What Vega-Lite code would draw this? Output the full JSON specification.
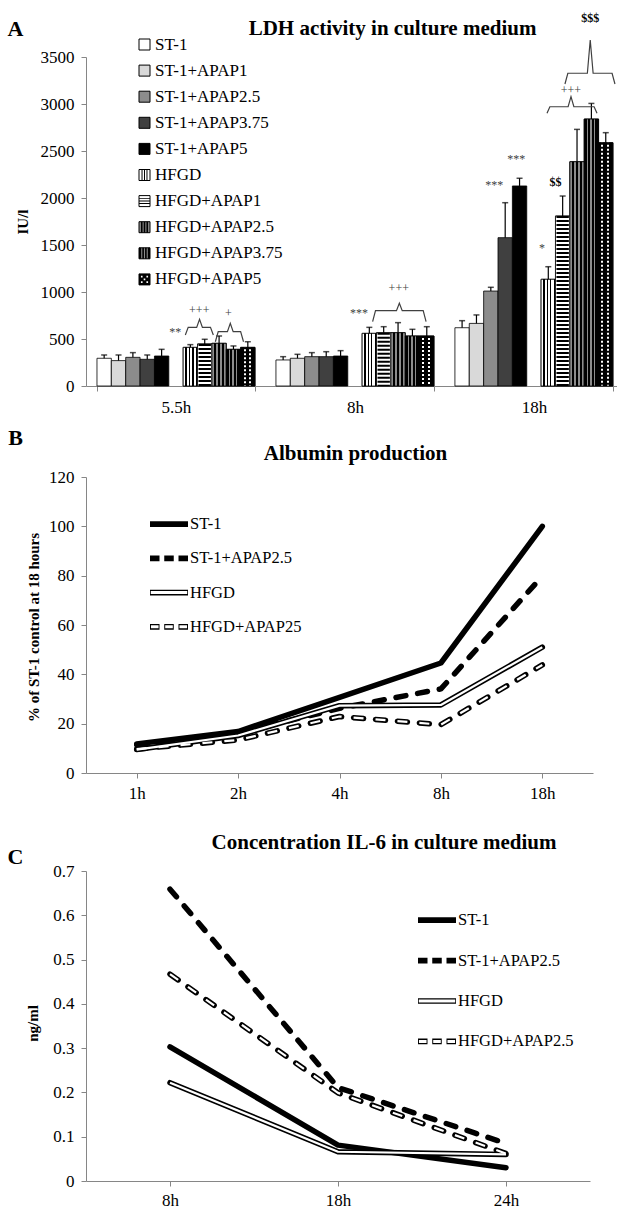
{
  "$schema": "https://vega.github.io/schema/vega-lite/v6.json",
  "background": "#ffffff",
  "padding": {"left": 7, "top": 11, "right": 0, "bottom": 0},
  "config": {
    "font": "Liberation Serif",
    "view": {"stroke": null},
    "axis": {"domainColor": "#868686", "domainWidth": 1, "tickColor": "#868686", "tickSize": 5, "labelColor": "#000000", "labelFont": "Liberation Serif", "labelFontSize": 17, "labelPadding": 7, "titleFont": "Liberation Serif", "titleFontSize": 15, "titleFontWeight": "bold", "titleColor": "#000000", "grid": false},
    "title": {"font": "Liberation Serif", "fontSize": 21, "fontWeight": "bold", "color": "#000000"},
    "legend": {"labelFont": "Liberation Serif", "labelColor": "#000000"}
  },
  "datasets": {
    "ldh": [
      {"time": "5.5h", "group": "ST-1", "value": 295, "err": 35},
      {"time": "5.5h", "group": "ST-1+APAP1", "value": 270, "err": 60},
      {"time": "5.5h", "group": "ST-1+APAP2.5", "value": 305, "err": 50},
      {"time": "5.5h", "group": "ST-1+APAP3.75", "value": 284, "err": 46},
      {"time": "5.5h", "group": "ST-1+APAP5", "value": 319, "err": 71},
      {"time": "5.5h", "group": "HFGD", "value": 411, "err": 29},
      {"time": "5.5h", "group": "HFGD+APAP1", "value": 447, "err": 50},
      {"time": "5.5h", "group": "HFGD+APAP2.5", "value": 454, "err": 78},
      {"time": "5.5h", "group": "HFGD+APAP3.75", "value": 390, "err": 36},
      {"time": "5.5h", "group": "HFGD+APAP5", "value": 411, "err": 60},
      {"time": "8h", "group": "ST-1", "value": 277, "err": 35},
      {"time": "8h", "group": "ST-1+APAP1", "value": 295, "err": 42},
      {"time": "8h", "group": "ST-1+APAP2.5", "value": 312, "err": 43},
      {"time": "8h", "group": "ST-1+APAP3.75", "value": 312, "err": 53},
      {"time": "8h", "group": "ST-1+APAP5", "value": 319, "err": 57},
      {"time": "8h", "group": "HFGD", "value": 560, "err": 64},
      {"time": "8h", "group": "HFGD+APAP1", "value": 567, "err": 64},
      {"time": "8h", "group": "HFGD+APAP2.5", "value": 567, "err": 107},
      {"time": "8h", "group": "HFGD+APAP3.75", "value": 532, "err": 71},
      {"time": "8h", "group": "HFGD+APAP5", "value": 532, "err": 99},
      {"time": "18h", "group": "ST-1", "value": 620, "err": 75},
      {"time": "18h", "group": "ST-1+APAP1", "value": 666, "err": 90},
      {"time": "18h", "group": "ST-1+APAP2.5", "value": 1010, "err": 40},
      {"time": "18h", "group": "ST-1+APAP3.75", "value": 1578, "err": 372},
      {"time": "18h", "group": "ST-1+APAP5", "value": 2128, "err": 82},
      {"time": "18h", "group": "HFGD", "value": 1135, "err": 134},
      {"time": "18h", "group": "HFGD+APAP1", "value": 1808, "err": 213},
      {"time": "18h", "group": "HFGD+APAP2.5", "value": 2386, "err": 344},
      {"time": "18h", "group": "HFGD+APAP3.75", "value": 2840, "err": 166},
      {"time": "18h", "group": "HFGD+APAP5", "value": 2588, "err": 107}
    ],
    "ldhNotes": [
      {"time": "5.5h", "pos": 5.45, "value": 578, "text": "**"},
      {"time": "5.5h", "pos": 7.12, "value": 808, "text": "+++"},
      {"time": "5.5h", "pos": 9.15, "value": 780, "text": "+"},
      {"time": "8h", "pos": 5.78, "value": 780, "text": "***"},
      {"time": "8h", "pos": 8.55, "value": 1039, "text": "+++"},
      {"time": "18h", "pos": 2.74, "value": 2138, "text": "***"},
      {"time": "18h", "pos": 4.27, "value": 2415, "text": "***"},
      {"time": "18h", "pos": 6.06, "value": 1465, "text": "*"},
      {"time": "18h", "pos": 7.0, "value": 2173, "text": "$$"},
      {"time": "18h", "pos": 8.08, "value": 3149, "text": "+++"},
      {"time": "18h", "pos": 9.42, "value": 3915, "text": "$$$"}
    ],
    "ldhBraces": [
      {"time": "5.5h", "brace": "b1", "k": 1, "pos": 6.15, "value": 543},
      {"time": "5.5h", "brace": "b1", "k": 2, "pos": 6.35, "value": 624},
      {"time": "5.5h", "brace": "b1", "k": 3, "pos": 6.94, "value": 624},
      {"time": "5.5h", "brace": "b1", "k": 4, "pos": 7.14, "value": 710},
      {"time": "5.5h", "brace": "b1", "k": 5, "pos": 7.34, "value": 624},
      {"time": "5.5h", "brace": "b1", "k": 6, "pos": 7.9, "value": 624},
      {"time": "5.5h", "brace": "b1", "k": 7, "pos": 8.1, "value": 543},
      {"time": "5.5h", "brace": "b2", "k": 1, "pos": 8.24, "value": 471},
      {"time": "5.5h", "brace": "b2", "k": 2, "pos": 8.44, "value": 578},
      {"time": "5.5h", "brace": "b2", "k": 3, "pos": 9.08, "value": 578},
      {"time": "5.5h", "brace": "b2", "k": 4, "pos": 9.28, "value": 667},
      {"time": "5.5h", "brace": "b2", "k": 5, "pos": 9.48, "value": 578},
      {"time": "5.5h", "brace": "b2", "k": 6, "pos": 10.0, "value": 578},
      {"time": "5.5h", "brace": "b2", "k": 7, "pos": 10.2, "value": 471},
      {"time": "8h", "brace": "b3", "k": 1, "pos": 6.73, "value": 684},
      {"time": "8h", "brace": "b3", "k": 2, "pos": 6.93, "value": 801},
      {"time": "8h", "brace": "b3", "k": 3, "pos": 8.39, "value": 801},
      {"time": "8h", "brace": "b3", "k": 4, "pos": 8.59, "value": 880},
      {"time": "8h", "brace": "b3", "k": 5, "pos": 8.79, "value": 801},
      {"time": "8h", "brace": "b3", "k": 6, "pos": 10.25, "value": 801},
      {"time": "8h", "brace": "b3", "k": 7, "pos": 10.45, "value": 684},
      {"time": "18h", "brace": "b4", "k": 1, "pos": 6.41, "value": 2901},
      {"time": "18h", "brace": "b4", "k": 2, "pos": 6.61, "value": 2971},
      {"time": "18h", "brace": "b4", "k": 3, "pos": 7.88, "value": 2971},
      {"time": "18h", "brace": "b4", "k": 4, "pos": 8.08, "value": 3078},
      {"time": "18h", "brace": "b4", "k": 5, "pos": 8.28, "value": 2971},
      {"time": "18h", "brace": "b4", "k": 6, "pos": 9.69, "value": 2971},
      {"time": "18h", "brace": "b4", "k": 7, "pos": 9.89, "value": 2901},
      {"time": "18h", "brace": "b5", "k": 1, "pos": 7.66, "value": 3213},
      {"time": "18h", "brace": "b5", "k": 2, "pos": 7.86, "value": 3327},
      {"time": "18h", "brace": "b5", "k": 3, "pos": 9.22, "value": 3327},
      {"time": "18h", "brace": "b5", "k": 4, "pos": 9.42, "value": 3681},
      {"time": "18h", "brace": "b5", "k": 5, "pos": 9.62, "value": 3327},
      {"time": "18h", "brace": "b5", "k": 6, "pos": 10.94, "value": 3327},
      {"time": "18h", "brace": "b5", "k": 7, "pos": 11.14, "value": 3213}
    ],
    "albumin": [
      {"time": "1h", "series": "ST-1", "value": 11.8},
      {"time": "2h", "series": "ST-1", "value": 16.8},
      {"time": "4h", "series": "ST-1", "value": 30.7},
      {"time": "8h", "series": "ST-1", "value": 44.6},
      {"time": "18h", "series": "ST-1", "value": 100},
      {"time": "1h", "series": "ST-1+APAP2.5", "value": 11.4},
      {"time": "2h", "series": "ST-1+APAP2.5", "value": 16.2},
      {"time": "4h", "series": "ST-1+APAP2.5", "value": 26.2},
      {"time": "8h", "series": "ST-1+APAP2.5", "value": 34.1},
      {"time": "18h", "series": "ST-1+APAP2.5", "value": 79.8},
      {"time": "1h", "series": "HFGD", "value": 9.5},
      {"time": "2h", "series": "HFGD", "value": 15.2},
      {"time": "4h", "series": "HFGD", "value": 27.3},
      {"time": "8h", "series": "HFGD", "value": 27.6},
      {"time": "18h", "series": "HFGD", "value": 51},
      {"time": "1h", "series": "HFGD+APAP25", "value": 9.7},
      {"time": "2h", "series": "HFGD+APAP25", "value": 13.4},
      {"time": "4h", "series": "HFGD+APAP25", "value": 22.9},
      {"time": "8h", "series": "HFGD+APAP25", "value": 19.6},
      {"time": "18h", "series": "HFGD+APAP25", "value": 43.8}
    ],
    "il6": [
      {"time": "8h", "series": "ST-1", "value": 0.303},
      {"time": "18h", "series": "ST-1", "value": 0.081},
      {"time": "24h", "series": "ST-1", "value": 0.03},
      {"time": "8h", "series": "ST-1+APAP2.5", "value": 0.659},
      {"time": "18h", "series": "ST-1+APAP2.5", "value": 0.211},
      {"time": "24h", "series": "ST-1+APAP2.5", "value": 0.085},
      {"time": "8h", "series": "HFGD", "value": 0.222},
      {"time": "18h", "series": "HFGD", "value": 0.066},
      {"time": "24h", "series": "HFGD", "value": 0.06},
      {"time": "8h", "series": "HFGD+APAP2.5", "value": 0.467},
      {"time": "18h", "series": "HFGD+APAP2.5", "value": 0.199},
      {"time": "24h", "series": "HFGD+APAP2.5", "value": 0.062}
    ]
  },
  "resolve": {"scale": {"fill": "independent", "shape": "independent"}, "legend": {"fill": "independent", "shape": "independent"}},
  "vconcat": [
    {
      "spacing": 10,
      "resolve": {"scale": {"fill": "independent", "shape": "independent"}, "legend": {"fill": "independent", "shape": "independent"}},
      "vconcat": [
        {
          "width": 531,
          "height": 329,
          "title": {"text": "LDH activity in culture medium", "frame": "group", "anchor": "middle", "dx": 41, "offset": -27},
          "layer": [
            {
              "data": {"name": "ldh"},
              "mark": {"type": "bar", "stroke": "#000000", "strokeWidth": 0.8},
              "encoding": {
                "x": {"field": "time", "type": "nominal", "sort": ["5.5h", "8h", "18h"], "scale": {"paddingInner": 0.117, "paddingOuter": 0.042, "align": 0.73}, "axis": {"title": null, "labelAngle": 0, "tickBand": "extent", "labelPadding": 8.5}},
                "xOffset": {"field": "group", "type": "nominal", "scale": {"domain": ["ST-1", "ST-1+APAP1", "ST-1+APAP2.5", "ST-1+APAP3.75", "ST-1+APAP5", "gap", "HFGD", "HFGD+APAP1", "HFGD+APAP2.5", "HFGD+APAP3.75", "HFGD+APAP5"], "paddingInner": 0, "paddingOuter": 0}},
                "y": {"field": "value", "type": "quantitative", "scale": {"domain": [0, 3500], "nice": false}, "axis": {"title": "IU/l", "values": [0, 500, 1000, 1500, 2000, 2500, 3000, 3500], "format": "d", "titleX": -64, "titleY": 164.5, "titleBaseline": "middle", "titleAngle": -90}},
                "fill": {
                  "field": "group", "type": "nominal",
                  "scale": {"domain": ["ST-1", "ST-1+APAP1", "ST-1+APAP2.5", "ST-1+APAP3.75", "ST-1+APAP5", "HFGD", "HFGD+APAP1", "HFGD+APAP2.5", "HFGD+APAP3.75", "HFGD+APAP5"], "range": ["#ffffff", "#d9d9d9", "#8c8c8c", "#404040", "#000000", "#ffffff", "#ffffff", "#8c8c8c", "#8c8c8c", "#ffffff"]},
                  "legend": {"title": null, "orient": "none", "legendX": 50, "legendY": -21, "symbolType": "square", "symbolSize": 121, "symbolStrokeColor": "#000000", "symbolStrokeWidth": 1, "labelFontSize": 17, "labelOffset": 2, "rowPadding": 8.1, "padding": 0}
                }
              }
            },
            {
              "data": {"name": "ldh"},
              "transform": [{"filter": "datum.group === 'HFGD'"}],
              "mark": {"type": "bar", "stroke": "#000000", "strokeWidth": 0.8, "fill": {"gradient": "linear", "x1": 0, "y1": 0, "x2": 1, "y2": 0, "stops": [{"offset": 0, "color": "#ffffff"}, {"offset": 0.16, "color": "#ffffff"}, {"offset": 0.16, "color": "#000000"}, {"offset": 0.24, "color": "#000000"}, {"offset": 0.24, "color": "#ffffff"}, {"offset": 0.4, "color": "#ffffff"}, {"offset": 0.4, "color": "#000000"}, {"offset": 0.48, "color": "#000000"}, {"offset": 0.48, "color": "#ffffff"}, {"offset": 0.64, "color": "#ffffff"}, {"offset": 0.64, "color": "#000000"}, {"offset": 0.72, "color": "#000000"}, {"offset": 0.72, "color": "#ffffff"}, {"offset": 0.88, "color": "#ffffff"}, {"offset": 0.88, "color": "#000000"}, {"offset": 0.96, "color": "#000000"}, {"offset": 0.96, "color": "#ffffff"}, {"offset": 1, "color": "#ffffff"}]}},
              "encoding": {
                "x": {"field": "time", "type": "nominal", "sort": ["5.5h", "8h", "18h"]},
                "xOffset": {"field": "group", "type": "nominal", "scale": {"domain": ["ST-1", "ST-1+APAP1", "ST-1+APAP2.5", "ST-1+APAP3.75", "ST-1+APAP5", "gap", "HFGD", "HFGD+APAP1", "HFGD+APAP2.5", "HFGD+APAP3.75", "HFGD+APAP5"], "paddingInner": 0, "paddingOuter": 0}},
                "y": {"field": "value", "type": "quantitative", "axis": null}
              }
            },
            {
              "data": {"name": "ldh"},
              "transform": [{"filter": "datum.group === 'HFGD+APAP1'"}],
              "mark": {"type": "bar", "stroke": "#000000", "strokeWidth": 0.8, "fill": "#ffffff"},
              "encoding": {
                "x": {"field": "time", "type": "nominal", "sort": ["5.5h", "8h", "18h"]},
                "xOffset": {"field": "group", "type": "nominal", "scale": {"domain": ["ST-1", "ST-1+APAP1", "ST-1+APAP2.5", "ST-1+APAP3.75", "ST-1+APAP5", "gap", "HFGD", "HFGD+APAP1", "HFGD+APAP2.5", "HFGD+APAP3.75", "HFGD+APAP5"], "paddingInner": 0, "paddingOuter": 0}},
                "y": {"field": "value", "type": "quantitative", "axis": null}
              }
            },
            {
              "data": {"name": "ldh"},
              "transform": [{"filter": "datum.group === 'HFGD+APAP2.5'"}],
              "mark": {"type": "bar", "stroke": "#000000", "strokeWidth": 0.8, "fill": {"gradient": "linear", "x1": 0, "y1": 0, "x2": 1, "y2": 0, "stops": [{"offset": 0, "color": "#8c8c8c"}, {"offset": 0.14, "color": "#8c8c8c"}, {"offset": 0.14, "color": "#000000"}, {"offset": 0.28, "color": "#000000"}, {"offset": 0.28, "color": "#8c8c8c"}, {"offset": 0.42, "color": "#8c8c8c"}, {"offset": 0.42, "color": "#000000"}, {"offset": 0.56, "color": "#000000"}, {"offset": 0.56, "color": "#8c8c8c"}, {"offset": 0.7, "color": "#8c8c8c"}, {"offset": 0.7, "color": "#000000"}, {"offset": 0.84, "color": "#000000"}, {"offset": 0.84, "color": "#8c8c8c"}, {"offset": 1, "color": "#8c8c8c"}]}},
              "encoding": {
                "x": {"field": "time", "type": "nominal", "sort": ["5.5h", "8h", "18h"]},
                "xOffset": {"field": "group", "type": "nominal", "scale": {"domain": ["ST-1", "ST-1+APAP1", "ST-1+APAP2.5", "ST-1+APAP3.75", "ST-1+APAP5", "gap", "HFGD", "HFGD+APAP1", "HFGD+APAP2.5", "HFGD+APAP3.75", "HFGD+APAP5"], "paddingInner": 0, "paddingOuter": 0}},
                "y": {"field": "value", "type": "quantitative", "axis": null}
              }
            },
            {
              "data": {"name": "ldh"},
              "transform": [{"filter": "datum.group === 'HFGD+APAP3.75'"}],
              "mark": {"type": "bar", "stroke": "#000000", "strokeWidth": 0.8, "fill": {"gradient": "linear", "x1": 0, "y1": 0, "x2": 1, "y2": 0, "stops": [{"offset": 0, "color": "#000000"}, {"offset": 0.16, "color": "#000000"}, {"offset": 0.16, "color": "#8c8c8c"}, {"offset": 0.26, "color": "#8c8c8c"}, {"offset": 0.26, "color": "#000000"}, {"offset": 0.42, "color": "#000000"}, {"offset": 0.42, "color": "#8c8c8c"}, {"offset": 0.52, "color": "#8c8c8c"}, {"offset": 0.52, "color": "#000000"}, {"offset": 0.68, "color": "#000000"}, {"offset": 0.68, "color": "#8c8c8c"}, {"offset": 0.78, "color": "#8c8c8c"}, {"offset": 0.78, "color": "#000000"}, {"offset": 1, "color": "#000000"}]}},
              "encoding": {
                "x": {"field": "time", "type": "nominal", "sort": ["5.5h", "8h", "18h"]},
                "xOffset": {"field": "group", "type": "nominal", "scale": {"domain": ["ST-1", "ST-1+APAP1", "ST-1+APAP2.5", "ST-1+APAP3.75", "ST-1+APAP5", "gap", "HFGD", "HFGD+APAP1", "HFGD+APAP2.5", "HFGD+APAP3.75", "HFGD+APAP5"], "paddingInner": 0, "paddingOuter": 0}},
                "y": {"field": "value", "type": "quantitative", "axis": null}
              }
            },
            {
              "data": {"name": "ldh"},
              "transform": [{"filter": "datum.group === 'HFGD+APAP5'"}],
              "mark": {"type": "bar", "stroke": "#000000", "strokeWidth": 0.8, "fill": {"gradient": "linear", "x1": 0, "y1": 0, "x2": 1, "y2": 0, "stops": [{"offset": 0, "color": "#000000"}, {"offset": 0.2, "color": "#000000"}, {"offset": 0.2, "color": "#ffffff"}, {"offset": 0.34, "color": "#ffffff"}, {"offset": 0.34, "color": "#000000"}, {"offset": 0.6, "color": "#000000"}, {"offset": 0.6, "color": "#ffffff"}, {"offset": 0.74, "color": "#ffffff"}, {"offset": 0.74, "color": "#000000"}, {"offset": 1, "color": "#000000"}]}},
              "encoding": {
                "x": {"field": "time", "type": "nominal", "sort": ["5.5h", "8h", "18h"]},
                "xOffset": {"field": "group", "type": "nominal", "scale": {"domain": ["ST-1", "ST-1+APAP1", "ST-1+APAP2.5", "ST-1+APAP3.75", "ST-1+APAP5", "gap", "HFGD", "HFGD+APAP1", "HFGD+APAP2.5", "HFGD+APAP3.75", "HFGD+APAP5"], "paddingInner": 0, "paddingOuter": 0}},
                "y": {"field": "value", "type": "quantitative", "axis": null}
              }
            },
            {
              "data": {"name": "ldh"},
              "transform": [{"filter": "datum.group === 'HFGD+APAP1' || datum.group === 'HFGD+APAP5'"}],
              "mark": {"type": "rule", "stroke": "#000000", "strokeWidth": 12.4, "strokeDash": [2, 2]},
              "encoding": {
                "x": {"field": "time", "type": "nominal", "sort": ["5.5h", "8h", "18h"]},
                "xOffset": {"field": "group", "type": "nominal", "scale": {"domain": ["ST-1", "ST-1+APAP1", "ST-1+APAP2.5", "ST-1+APAP3.75", "ST-1+APAP5", "gap", "HFGD", "HFGD+APAP1", "HFGD+APAP2.5", "HFGD+APAP3.75", "HFGD+APAP5"], "paddingInner": 0, "paddingOuter": 0}},
                "y": {"field": "value", "type": "quantitative", "axis": null},
                "y2": {"datum": 0}
              }
            },
            {
              "data": {"name": "ldh"},
              "transform": [{"calculate": "datum.value + datum.err", "as": "hi"}],
              "mark": {"type": "rule", "stroke": "#000000", "strokeWidth": 1.2},
              "encoding": {
                "x": {"field": "time", "type": "nominal", "sort": ["5.5h", "8h", "18h"]},
                "xOffset": {"field": "group", "type": "nominal", "scale": {"domain": ["ST-1", "ST-1+APAP1", "ST-1+APAP2.5", "ST-1+APAP3.75", "ST-1+APAP5", "gap", "HFGD", "HFGD+APAP1", "HFGD+APAP2.5", "HFGD+APAP3.75", "HFGD+APAP5"], "paddingInner": 0, "paddingOuter": 0}},
                "y": {"field": "value", "type": "quantitative", "axis": null},
                "y2": {"field": "hi"}
              }
            },
            {
              "data": {"name": "ldh"},
              "transform": [{"calculate": "datum.value + datum.err", "as": "hi"}],
              "mark": {"type": "tick", "color": "#000000", "thickness": 1.5, "size": 6, "orient": "horizontal"},
              "encoding": {
                "x": {"field": "time", "type": "nominal", "sort": ["5.5h", "8h", "18h"]},
                "xOffset": {"field": "group", "type": "nominal", "scale": {"domain": ["ST-1", "ST-1+APAP1", "ST-1+APAP2.5", "ST-1+APAP3.75", "ST-1+APAP5", "gap", "HFGD", "HFGD+APAP1", "HFGD+APAP2.5", "HFGD+APAP3.75", "HFGD+APAP5"], "paddingInner": 0, "paddingOuter": 0}},
                "y": {"field": "hi", "type": "quantitative", "axis": null}
              }
            },
            {
              "data": {"name": "ldhNotes"},
              "transform": [{"filter": "indexof(datum.text, '$') < 0"}],
              "mark": {"type": "text", "font": "Liberation Serif", "fontSize": 12, "fill": "#404040", "baseline": "middle", "align": "center"},
              "encoding": {
                "x": {"field": "time", "type": "nominal", "sort": ["5.5h", "8h", "18h"]},
                "xOffset": {"field": "pos", "type": "quantitative", "scale": {"domain": [0, 11], "nice": false, "zero": false}},
                "y": {"field": "value", "type": "quantitative", "axis": null},
                "text": {"field": "text"}
              }
            },
            {
              "data": {"name": "ldhNotes"},
              "transform": [{"filter": "indexof(datum.text, '$') >= 0"}],
              "mark": {"type": "text", "font": "Liberation Serif", "fontSize": 12, "fontWeight": "bold", "fill": "#000000", "baseline": "middle", "align": "center"},
              "encoding": {
                "x": {"field": "time", "type": "nominal", "sort": ["5.5h", "8h", "18h"]},
                "xOffset": {"field": "pos", "type": "quantitative", "scale": {"domain": [0, 11], "nice": false, "zero": false}},
                "y": {"field": "value", "type": "quantitative", "axis": null},
                "text": {"field": "text"}
              }
            },
            {
              "data": {"name": "ldhBraces"},
              "mark": {"type": "line", "stroke": "#404040", "strokeWidth": 1.2},
              "encoding": {
                "x": {"field": "time", "type": "nominal", "sort": ["5.5h", "8h", "18h"]},
                "xOffset": {"field": "pos", "type": "quantitative", "scale": {"domain": [0, 11], "nice": false, "zero": false}},
                "y": {"field": "value", "type": "quantitative", "axis": {"orient": "left", "title": "A", "titleAngle": 0, "titleX": -71, "titleY": -29, "titleAlign": "center", "titleBaseline": "middle", "titleFontSize": 22, "titleFontWeight": "bold", "labels": false, "ticks": false, "domain": false, "grid": false}},
                "detail": {"field": "brace"},
                "order": {"field": "k"}
              }
            },
            {
              "data": {"name": "ldh"},
              "mark": {"type": "point", "filled": true, "color": "#000000", "opacity": 0},
              "encoding": {
                "x": {"field": "time", "type": "nominal", "sort": ["5.5h", "8h", "18h"]},
                "y": {"field": "value", "type": "quantitative", "axis": null},
                "shape": {"field": "group", "type": "nominal",
                  "scale": {"domain": ["ST-1", "ST-1+APAP1", "ST-1+APAP2.5", "ST-1+APAP3.75", "ST-1+APAP5", "HFGD", "HFGD+APAP1", "HFGD+APAP2.5", "HFGD+APAP3.75", "HFGD+APAP5", "gap"],
                    "range": ["M0,0Z", "M0,0Z", "M0,0Z", "M0,0Z", "M0,0Z",
                      "M-0.54,-1H-0.36V1H-0.54Z M-0.09,-1H0.09V1H-0.09Z M0.36,-1H0.54V1H0.36Z",
                      "M-1,-0.54H1V-0.36H-1Z M-1,-0.09H1V0.09H-1Z M-1,0.36H1V0.54H-1Z",
                      "M-0.65,-1H-0.35V1H-0.65Z M-0.15,-1H0.15V1H-0.15Z M0.35,-1H0.65V1H0.35Z",
                      "M-1,-1H-0.6V1H-1Z M-0.4,-1H-0.1V1H-0.4Z M0.1,-1H0.4V1H0.1Z M0.6,-1H1V1H0.6Z",
                      "M-1,-1H1V1H-1Z M-0.65,-0.65V-0.35H-0.35V-0.65Z M0.35,-0.65V-0.35H0.65V-0.65Z M-0.15,-0.15V0.15H0.15V-0.15Z M-0.65,0.35V0.65H-0.35V0.35Z M0.35,0.35V0.65H0.65V0.35Z",
                      "M0,0Z"]},
                  "legend": {"title": null, "orient": "none", "legendX": 50, "legendY": -21, "symbolSize": 121, "symbolFillColor": "#000000", "symbolStrokeWidth": 0, "symbolOpacity": 1, "labelFontSize": 17, "labelOffset": 2, "rowPadding": 8.1, "padding": 0, "labelExpr": "' '"}}
              }
            }
          ],
          "resolve": {"scale": {"xOffset": "independent"}, "axis": {"y": "independent"}}
        },
        {
          "width": 507,
          "height": 296,
          "title": {"text": "Albumin production", "frame": "group", "anchor": "middle", "dx": 16, "offset": -38},
          "layer": [
            {
              "data": {"name": "albumin"},
              "transform": [{"filter": "datum.series === 'ST-1' || datum.series === 'HFGD'"}],
              "mark": {"type": "line", "stroke": "#000000", "strokeWidth": 5.5, "strokeCap": "round", "strokeJoin": "round"},
              "encoding": {
                "x": {"field": "time", "type": "nominal", "sort": ["1h", "2h", "4h", "8h", "18h"], "scale": {"type": "point", "padding": 0.5}, "axis": {"title": null, "labelAngle": 0, "labelPadding": 7.5}},
                "y": {"field": "value", "type": "quantitative", "scale": {"domain": [0, 120], "nice": false}, "axis": {"title": "% of ST-1 control at 18 hours", "values": [0, 20, 40, 60, 80, 100, 120], "titleX": -53, "titleY": 150, "titleBaseline": "middle", "titleAngle": -90}},
                "detail": {"field": "series"}
              }
            },
            {
              "data": {"name": "albumin"},
              "transform": [{"filter": "indexof(datum.series, 'APAP') > 0"}],
              "mark": {"type": "line", "stroke": "#000000", "strokeWidth": 5.5, "strokeCap": "round", "strokeJoin": "round", "strokeDash": [10, 12]},
              "encoding": {
                "x": {"field": "time", "type": "nominal", "sort": ["1h", "2h", "4h", "8h", "18h"]},
                "y": {"field": "value", "type": "quantitative", "axis": null},
                "detail": {"field": "series"}
              }
            },
            {
              "data": {"name": "albumin"},
              "transform": [{"filter": "datum.series === 'HFGD'"}],
              "mark": {"type": "line", "stroke": "#ffffff", "strokeWidth": 2.2, "strokeCap": "butt", "strokeJoin": "round"},
              "encoding": {
                "x": {"field": "time", "type": "nominal", "sort": ["1h", "2h", "4h", "8h", "18h"]},
                "y": {"field": "value", "type": "quantitative", "axis": null}
              }
            },
            {
              "data": {"name": "albumin"},
              "transform": [{"filter": "indexof(datum.series, 'HFGD') === 0 && indexof(datum.series, 'APAP') > 0"}],
              "mark": {"type": "line", "stroke": "#ffffff", "strokeWidth": 2.2, "strokeCap": "butt", "strokeJoin": "round", "strokeDash": [10, 12]},
              "encoding": {
                "x": {"field": "time", "type": "nominal", "sort": ["1h", "2h", "4h", "8h", "18h"]},
                "y": {"field": "value", "type": "quantitative", "axis": {"orient": "left", "title": "B", "titleAngle": 0, "titleX": -71, "titleY": -40, "titleAlign": "center", "titleBaseline": "middle", "titleFontSize": 22, "titleFontWeight": "bold", "labels": false, "ticks": false, "domain": false, "grid": false}}
              }
            },
            {
              "data": {"name": "albumin"},
              "mark": {"type": "point", "filled": true, "color": "#000000", "opacity": 0},
              "encoding": {
                "x": {"field": "time", "type": "nominal", "sort": ["1h", "2h", "4h", "8h", "18h"]},
                "y": {"field": "value", "type": "quantitative", "axis": null},
                "shape": {"field": "series", "type": "nominal", "scale": {"domain": ["ST-1", "ST-1+APAP2.5", "HFGD", "HFGD+APAP25"], "range": ["M-1,-0.15H1V0.15H-1Z", "M-1,-0.15H-0.5V0.15H-1Z M-0.25,-0.15H0.25V0.15H-0.25Z M0.5,-0.15H1V0.15H0.5Z", "M-1,-0.15H1V0.15H-1Z M-0.96,-0.08V0.08H0.96V-0.08Z", "M-1,-0.15H-0.5V0.15H-1Z M-0.95,-0.08V0.08H-0.55V-0.08Z M-0.25,-0.15H0.25V0.15H-0.25Z M-0.2,-0.08V0.08H0.2V-0.08Z M0.5,-0.15H1V0.15H0.5Z M0.55,-0.08V0.08H0.95V-0.08Z"]},
                  "legend": {"title": null, "orient": "none", "legendX": 64, "legendY": 28.2, "symbolSize": 1444, "symbolFillColor": "#000000", "symbolStrokeWidth": 0, "symbolOpacity": 1, "labelFontSize": 16.5, "labelOffset": 2, "rowPadding": 6.2, "padding": 0}}
              }
            }
          ],
          "resolve": {"axis": {"y": "independent"}}
        }
      ]
    },
    {
      "width": 504,
      "height": 310,
      "title": {"text": "Concentration IL-6 in culture medium", "frame": "group", "anchor": "middle", "dx": 46, "offset": -8},
      "layer": [
        {
          "data": {"name": "il6"},
          "transform": [{"filter": "datum.series === 'ST-1' || datum.series === 'HFGD'"}],
          "mark": {"type": "line", "stroke": "#000000", "strokeWidth": 5.5, "strokeCap": "round", "strokeJoin": "round"},
          "encoding": {
            "x": {"field": "time", "type": "nominal", "sort": ["8h", "18h", "24h"], "scale": {"type": "point", "padding": 0.5}, "axis": {"title": null, "labelAngle": 0, "labelPadding": 6.5}},
            "y": {"field": "value", "type": "quantitative", "scale": {"domain": [0, 0.7], "nice": false}, "axis": {"title": "ng/ml", "values": [0, 0.1, 0.2, 0.3, 0.4, 0.5, 0.6, 0.7], "format": "~g", "titleX": -54, "titleY": 152, "titleBaseline": "middle", "titleAngle": -90}},
            "detail": {"field": "series"}
          }
        },
        {
          "data": {"name": "il6"},
          "transform": [{"filter": "indexof(datum.series, 'APAP') > 0"}],
          "mark": {"type": "line", "stroke": "#000000", "strokeWidth": 5.5, "strokeCap": "round", "strokeJoin": "round", "strokeDash": [10, 12]},
          "encoding": {
            "x": {"field": "time", "type": "nominal", "sort": ["8h", "18h", "24h"]},
            "y": {"field": "value", "type": "quantitative", "axis": null},
            "detail": {"field": "series"}
          }
        },
        {
          "data": {"name": "il6"},
          "transform": [{"filter": "datum.series === 'HFGD'"}],
          "mark": {"type": "line", "stroke": "#ffffff", "strokeWidth": 2.2, "strokeCap": "butt", "strokeJoin": "round"},
          "encoding": {
            "x": {"field": "time", "type": "nominal", "sort": ["8h", "18h", "24h"]},
            "y": {"field": "value", "type": "quantitative", "axis": null}
          }
        },
        {
          "data": {"name": "il6"},
          "transform": [{"filter": "indexof(datum.series, 'HFGD') === 0 && indexof(datum.series, 'APAP') > 0"}],
          "mark": {"type": "line", "stroke": "#ffffff", "strokeWidth": 2.2, "strokeCap": "butt", "strokeJoin": "round", "strokeDash": [10, 12]},
          "encoding": {
            "x": {"field": "time", "type": "nominal", "sort": ["8h", "18h", "24h"]},
            "y": {"field": "value", "type": "quantitative", "axis": {"orient": "left", "title": "C", "titleAngle": 0, "titleX": -71, "titleY": -15, "titleAlign": "center", "titleBaseline": "middle", "titleFontSize": 22, "titleFontWeight": "bold", "labels": false, "ticks": false, "domain": false, "grid": false}}
          }
        },
        {
          "data": {"name": "il6"},
          "mark": {"type": "point", "filled": true, "color": "#000000", "opacity": 0},
          "encoding": {
            "x": {"field": "time", "type": "nominal", "sort": ["8h", "18h", "24h"]},
            "y": {"field": "value", "type": "quantitative", "axis": null},
            "shape": {"field": "series", "type": "nominal", "scale": {"domain": ["ST-1", "ST-1+APAP2.5", "HFGD", "HFGD+APAP2.5"], "range": ["M-1,-0.15H1V0.15H-1Z", "M-1,-0.15H-0.5V0.15H-1Z M-0.25,-0.15H0.25V0.15H-0.25Z M0.5,-0.15H1V0.15H0.5Z", "M-1,-0.15H1V0.15H-1Z M-0.96,-0.08V0.08H0.96V-0.08Z", "M-1,-0.15H-0.5V0.15H-1Z M-0.95,-0.08V0.08H-0.55V-0.08Z M-0.25,-0.15H0.25V0.15H-0.25Z M-0.2,-0.08V0.08H0.2V-0.08Z M0.5,-0.15H1V0.15H0.5Z M0.55,-0.08V0.08H0.95V-0.08Z"]},
              "legend": {"title": null, "orient": "none", "legendX": 332, "legendY": 30.2, "symbolSize": 1444, "symbolFillColor": "#000000", "symbolStrokeWidth": 0, "symbolOpacity": 1, "labelFontSize": 16.5, "labelOffset": 2, "rowPadding": 12.4, "padding": 0}}
          }
        }
      ],
      "resolve": {"axis": {"y": "independent"}}
    }
  ],
  "spacing": 30
}
